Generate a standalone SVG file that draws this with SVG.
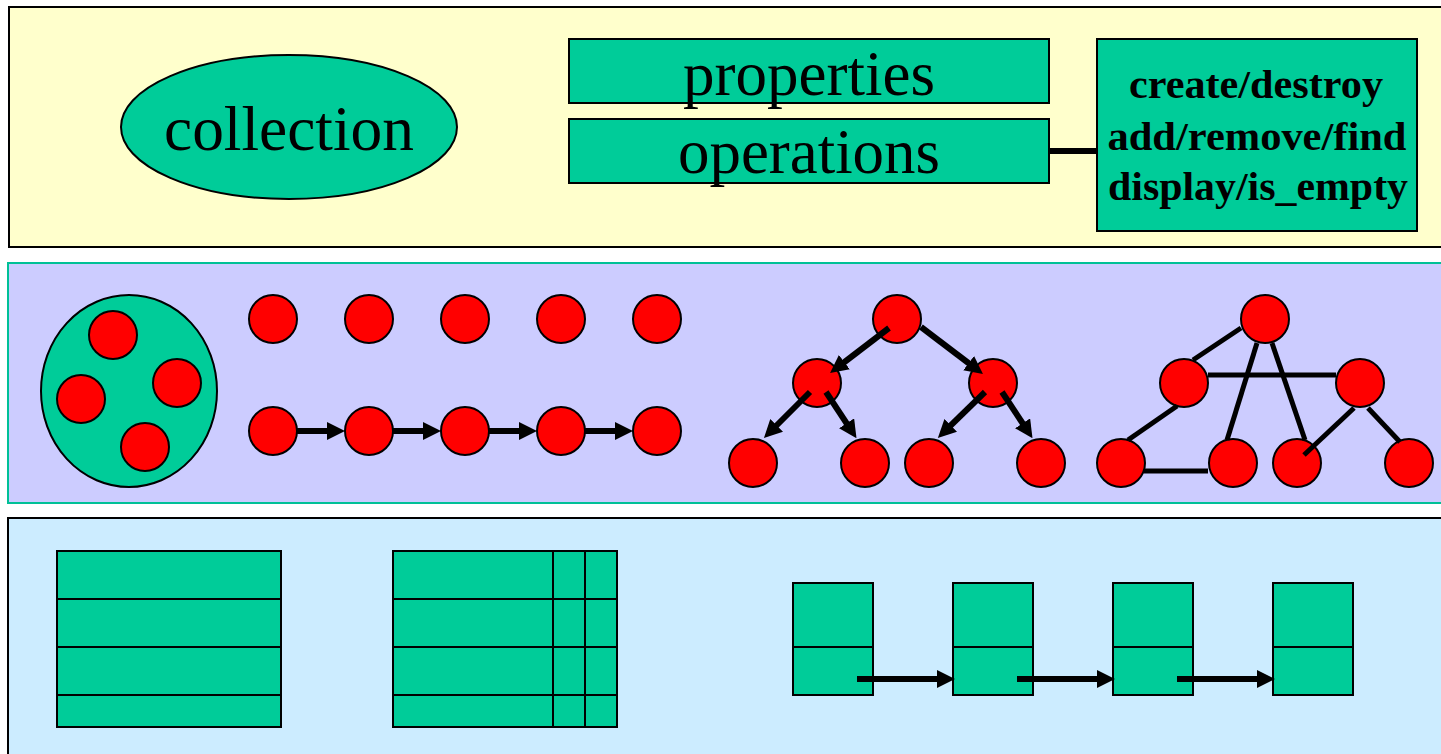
<svg xmlns="http://www.w3.org/2000/svg" width="1441" height="754" viewBox="0 0 1441 754">
<style>
.teal{fill:#00CC99;stroke:#000;stroke-width:2}
.red{fill:#FF0000;stroke:#000;stroke-width:2}
.big{font-family:"Liberation Serif","Times New Roman",serif;font-size:63px;fill:#000;text-anchor:middle}
.ops{font-family:"Liberation Serif","Times New Roman",serif;font-size:40px;font-weight:bold;fill:#000;text-anchor:middle}
.edge{stroke:#000;stroke-width:5;fill:none}
.arr{stroke:#000;stroke-width:6;fill:none;marker-end:url(#ah)}
.grid{stroke:#000;stroke-width:2;fill:none}
</style>
<defs>
<marker id="ah" markerUnits="userSpaceOnUse" markerWidth="18" markerHeight="18" refX="8" refY="9" orient="auto">
<path d="M0,0 L18,9 L0,18 Z" fill="#000"/>
</marker>
</defs>
<rect width="1441" height="754" fill="#FFFFFF"/>
<g id="panels">
<rect x="9" y="7" width="1445" height="240" fill="#FFFFCC" stroke="#000" stroke-width="2"/>
<rect x="8" y="263" width="1445" height="240" fill="#CCCCFF" stroke="#00C096" stroke-width="2"/>
<rect x="8" y="518" width="1445" height="250" fill="#CCECFF" stroke="#000" stroke-width="2"/>
</g>
<g id="collection">
<ellipse cx="289" cy="127" rx="168" ry="72" class="teal"/>
<text x="289" y="150" class="big" textLength="250" lengthAdjust="spacingAndGlyphs">collection</text>
</g>
<g id="properties">
<rect x="569" y="39" width="480" height="64" class="teal"/>
<text x="809" y="95" class="big" textLength="252" lengthAdjust="spacingAndGlyphs">properties</text>
</g>
<g id="operations">
<rect x="569" y="119" width="480" height="64" class="teal"/>
<text x="809" y="173" class="big" textLength="262" lengthAdjust="spacingAndGlyphs">operations</text>
</g>
<g id="op-list">
<rect x="1097" y="39" width="320" height="192" class="teal"/>
<text x="1256" y="98" class="ops" textLength="254" lengthAdjust="spacingAndGlyphs">create/destroy</text>
<text x="1257" y="150" class="ops" textLength="299" lengthAdjust="spacingAndGlyphs">add/remove/find</text>
<text x="1258" y="200" class="ops" textLength="300" lengthAdjust="spacingAndGlyphs">display/is_empty</text>
</g>
<g id="set">
<ellipse cx="129" cy="391" rx="88" ry="96" class="teal"/>
<circle cx="113" cy="335" r="24" class="red"/>
<circle cx="81" cy="399" r="24" class="red"/>
<circle cx="177" cy="383" r="24" class="red"/>
<circle cx="145" cy="447" r="24" class="red"/>
</g>
<g id="unordered">
<circle cx="273" cy="319" r="24" class="red"/>
<circle cx="369" cy="319" r="24" class="red"/>
<circle cx="465" cy="319" r="24" class="red"/>
<circle cx="561" cy="319" r="24" class="red"/>
<circle cx="657" cy="319" r="24" class="red"/>
</g>
<g id="linear">
<circle cx="273" cy="431" r="24" class="red"/>
<circle cx="369" cy="431" r="24" class="red"/>
<circle cx="465" cy="431" r="24" class="red"/>
<circle cx="561" cy="431" r="24" class="red"/>
<circle cx="657" cy="431" r="24" class="red"/>
</g>
<g id="tree">
<circle cx="897" cy="319" r="24" class="red"/>
<circle cx="817" cy="383" r="24" class="red"/>
<circle cx="993" cy="383" r="24" class="red"/>
<circle cx="753" cy="463" r="24" class="red"/>
<circle cx="865" cy="463" r="24" class="red"/>
<circle cx="929" cy="463" r="24" class="red"/>
<circle cx="1041" cy="463" r="24" class="red"/>
</g>
<g id="graph">
<circle cx="1265" cy="319" r="24" class="red"/>
<circle cx="1184" cy="383" r="24" class="red"/>
<circle cx="1360" cy="383" r="24" class="red"/>
<circle cx="1121" cy="463" r="24" class="red"/>
<circle cx="1233" cy="463" r="24" class="red"/>
<circle cx="1297" cy="463" r="24" class="red"/>
<circle cx="1409" cy="463" r="24" class="red"/>
</g>
<g id="array">
<rect x="57" y="551" width="224" height="176" class="teal"/>
<path d="M57,599 H281 M57,647 H281 M57,695 H281" class="grid"/>
</g>
<g id="table">
<rect x="393" y="551" width="224" height="176" class="teal"/>
<path d="M393,599 H617 M393,647 H617 M393,695 H617 M553,551 V727 M585,551 V727" class="grid"/>
</g>
<g id="list">
<rect x="793" y="583" width="80" height="112" class="teal"/>
<rect x="953" y="583" width="80" height="112" class="teal"/>
<rect x="1113" y="583" width="80" height="112" class="teal"/>
<rect x="1273" y="583" width="80" height="112" class="teal"/>
<path d="M793,647 H873 M953,647 H1033 M1113,647 H1193 M1273,647 H1353" class="grid"/>
</g>
<g id="connectors">
<line x1="1049" y1="151" x2="1097" y2="151" stroke="#000" stroke-width="6"/>
<line x1="297" y1="431" x2="335" y2="431" class="arr"/>
<line x1="393" y1="431" x2="431" y2="431" class="arr"/>
<line x1="489" y1="431" x2="527" y2="431" class="arr"/>
<line x1="585" y1="431" x2="623" y2="431" class="arr"/>
<line x1="889" y1="328" x2="838" y2="367" class="arr" stroke-width="5"/>
<line x1="921" y1="327" x2="975" y2="368" class="arr" stroke-width="5"/>
<line x1="810" y1="392" x2="771" y2="431" class="arr" stroke-width="5"/>
<line x1="826" y1="392" x2="851" y2="430" class="arr" stroke-width="5"/>
<line x1="985" y1="392" x2="945" y2="431" class="arr" stroke-width="5"/>
<line x1="1002" y1="392" x2="1027" y2="430" class="arr" stroke-width="5"/>
<line x1="1241" y1="328" x2="1193" y2="360" class="edge"/>
<line x1="1257" y1="343" x2="1227" y2="440" class="edge"/>
<line x1="1272" y1="343" x2="1305" y2="440" class="edge"/>
<line x1="1208" y1="375" x2="1336" y2="375" class="edge"/>
<line x1="1177" y1="406" x2="1128" y2="440" class="edge"/>
<line x1="1144" y1="471" x2="1208" y2="471" class="edge"/>
<line x1="1354" y1="408" x2="1304" y2="455" class="edge" stroke-width="8"/>
<line x1="1368" y1="408" x2="1400" y2="442" class="edge"/>
<line x1="857" y1="679" x2="945" y2="679" class="arr"/>
<line x1="1017" y1="679" x2="1105" y2="679" class="arr"/>
<line x1="1177" y1="679" x2="1265" y2="679" class="arr"/>
</g>
</svg>
